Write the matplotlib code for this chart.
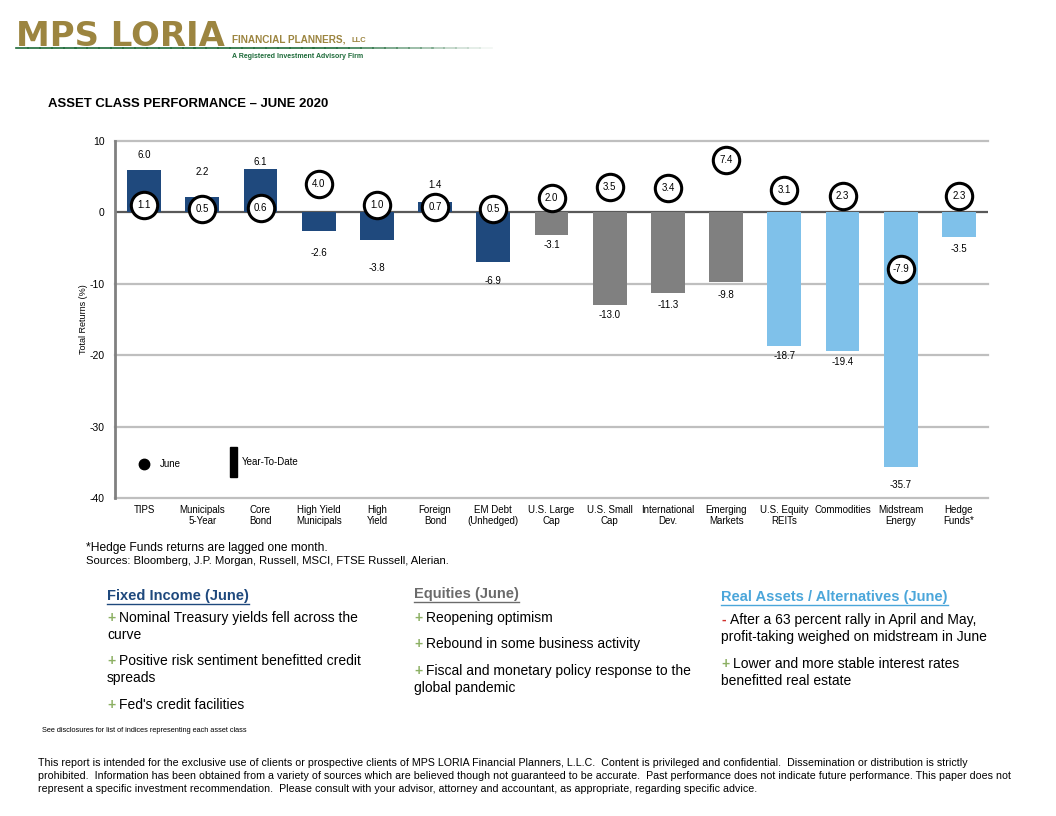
import matplotlib
matplotlib.use("Agg")
import matplotlib.pyplot as plt
from matplotlib.lines import Line2D
from matplotlib.patches import Rectangle
import numpy as np

# ---------------- data ----------------
categories = ["TIPS", "Municipals\n5-Year", "Core\nBond", "High Yield\nMunicipals", "High\nYield",
              "Foreign\nBond", "EM Debt\n(Unhedged)", "U.S. Large\nCap", "U.S. Small\nCap",
              "International\nDev.", "Emerging\nMarkets", "U.S. Equity\nREITs", "Commodities",
              "Midstream\nEnergy", "Hedge\nFunds*"]
ytd = [6.0, 2.2, 6.1, -2.6, -3.8, 1.4, -6.9, -3.1, -13.0, -11.3, -9.8, -18.7, -19.4, -35.7, -3.5]
june = [1.1, 0.5, 0.6, 4.0, 1.0, 0.7, 0.5, 2.0, 3.5, 3.4, 7.4, 3.1, 2.3, -7.9, 2.3]
groups = ["fi"] * 7 + ["eq"] * 4 + ["ra"] * 4
yticks = [10, 0, -10, -20, -30, -40]

# ---------------- style ----------------
W, H = 1056, 816
colors = {"fi": "#1F497D", "eq": "#808080", "ra": "#7FC1EA"}
# label offsets (points) away from bar end, chosen to avoid circles
label_off = [7, 14, 1.5, 12, 17, 9, 10, 4, 3.5, 5, 5.5, 3.5, 4.5, 9, 4.5]

plt.rcParams['font.family'] = ['Liberation Sans', 'DejaVu Sans']
fig = plt.figure(figsize=(W / 100, H / 100), dpi=100)
fig.canvas.draw()
R = fig.canvas.get_renderer()

def fx(x):
    return x / W

def fy(y):
    return 1 - y / H

def fit(t, width_px):
    """scale the font size of text t so that it spans width_px pixels"""
    for _ in range(3):
        w = t.get_window_extent(R).width
        t.set_fontsize(t.get_fontsize() * width_px / w)
    return t

# ---------------- logo ----------------
gold = "#9C8540"
dgreen = "#1E6B3A"
# fading green rule
for x0 in np.linspace(16, 480, 40):
    a = 1.0 if x0 < 330 else max(0.0, 1 - (x0 - 330) / 160)
    fig.add_artist(Line2D([fx(x0), fx(x0 + 12)], [fy(48), fy(48)], color=dgreen, lw=1.2, alpha=a))
t = fig.text(fx(16), fy(36), "MPS LORIA", fontsize=23, fontweight='bold', color=gold,
             va='center', ha='left', family=['DejaVu Sans'])
fit(t, 209)
t = fig.text(fx(232), fy(39), "FINANCIAL PLANNERS,", fontsize=9, fontweight='bold', color=gold,
             va='center', ha='left')
fit(t, 114)
fig.text(fx(351), fy(40), "LLC", fontsize=5.5, fontweight='bold', color=gold, va='center', ha='left')
t = fig.text(fx(232), fy(56), "A Registered Investment Advisory Firm", fontsize=5.5, fontweight='bold',
             color=dgreen, va='center', ha='left')
fit(t, 130)

# ---------------- title ----------------
t = fig.text(fx(48), fy(104), "ASSET CLASS PERFORMANCE \u2013 JUNE 2020", fontsize=9.4, fontweight='bold',
             va='center', ha='left')
fit(t, 279)

# ---------------- chart ----------------
left, right, top, bottom = 115, 988, 141, 498
ax = fig.add_axes([fx(left), fy(bottom), fx(right - left), (bottom - top) / H])
x = np.arange(len(categories))
bar_cols = [colors[g] for g in groups]
ax.bar(x, ytd, width=0.58, color=bar_cols, zorder=2)
ax.set_xlim(-0.5, len(categories) - 0.5)
ax.set_ylim(-40, 10)
for yv in yticks:
    if yv == 0:
        ax.axhline(0, color="#595959", lw=1.6, zorder=1.5)
    else:
        ax.axhline(yv, color="#BFBFBF", lw=1.6, zorder=1, clip_on=False)
ax.set_yticks(yticks)
ax.set_yticklabels([str(v) for v in yticks], fontsize=7.5)
ax.tick_params(axis='y', length=0, pad=7.5)
ax.set_xticks(x)
ax.set_xticklabels(categories, fontsize=7, linespacing=1.1)
ax.tick_params(axis='x', length=0, pad=5)
for s in ["top", "right", "bottom"]:
    ax.spines[s].set_visible(False)
ax.spines["left"].set_color("#808080")
ax.spines["left"].set_linewidth(2.0)
ax.set_ylabel("Total Returns (%)", fontsize=6.5, labelpad=1)

# june circles
ax.plot(x, june, linestyle='none', marker='o', markersize=19, markerfacecolor='white',
        markeredgecolor='black', markeredgewidth=2.2, zorder=4)
for xi, v in zip(x, june):
    ax.text(xi, v, f"{v:.1f}", ha='center', va='center', fontsize=7, zorder=5)

# ytd labels
for xi, v, off in zip(x, ytd, label_off):
    sign = 1 if v >= 0 else -1
    ax.annotate(f"{v:.1f}", (xi, v), xytext=(0, sign * off), textcoords='offset points',
                ha='center', va='bottom' if v >= 0 else 'top', fontsize=7, zorder=5)

# legend
ax.plot([0], [-35.2], marker='o', markersize=7.5, color='black', linestyle='none', zorder=4)
ax.text(0.27, -35.2, "June", fontsize=7, va='center', ha='left')
fig.add_artist(Rectangle((fx(230), fy(477)), fx(7), (477 - 447) / H, color='black'))
fig.text(fx(242), fy(462), "Year-To-Date", fontsize=7, va='center', ha='left')

# ---------------- notes ----------------
t = fig.text(fx(86), fy(548), "*Hedge Funds returns are lagged one month.", fontsize=8.2, va='center')
fit(t, 239)
t = fig.text(fx(86), fy(561), "Sources: Bloomberg, J.P. Morgan, Russell, MSCI, FTSE Russell, Alerian.",
             fontsize=8.2, va='center')
fit(t, 364)

# ---------------- commentary ----------------
headers = []
def header(xp, yp, txt, col, wpx):
    t = fig.text(fx(xp), fy(yp), txt, fontsize=10.5, fontweight='bold', color=col, va='center',
                 ha='left')
    fit(t, wpx)
    headers.append(t)

header(107, 596, "Fixed Income (June)", "#1F497D", 142)
header(414, 594, "Equities (June)", "#6B6B6B", 105)
header(721, 597, "Real Assets / Alternatives (June)", "#4BA6DA", 227)

green = "#8CB063"
def bullet(xp, yp, lines, sym="+", symcol=green, gap=17, indent=12):
    fig.text(fx(xp), fy(yp), sym, fontsize=10, color=symcol, fontweight='bold', va='center')
    for i, ln in enumerate(lines):
        xo = xp + indent if i == 0 else xp
        fig.text(fx(xo), fy(yp + i * gap), ln, fontsize=10, va='center')

bullet(107, 618, ["Nominal Treasury yields fell across the", "curve"])
bullet(107, 661, ["Positive risk sentiment benefitted credit", "spreads"])
bullet(107, 705, ["Fed's credit facilities"])
bullet(414, 618, ["Reopening optimism"])
bullet(414, 644, ["Rebound in some business activity"])
bullet(414, 671, ["Fiscal and monetary policy response to the", "global pandemic"])
bullet(721, 620, ["After a 63 percent rally in April and May,", "profit-taking weighed on midstream in June"],
       sym="-", symcol="#D0312D", indent=9)
bullet(721, 664, ["Lower and more stable interest rates", "benefitted real estate"])

t = fig.text(fx(42), fy(730), "See disclosures for list of indices representing each asset class",
             fontsize=5, va='center')
fit(t, 205)

# underline headers
for t in headers:
    bb = t.get_window_extent(R)
    fig.add_artist(Line2D([bb.x0 / fig.bbox.width, bb.x1 / fig.bbox.width],
                          [(bb.y0 - 0.5) / fig.bbox.height] * 2, color=t.get_color(), lw=1))

# ---------------- footer ----------------
footer = ["This report is intended for the exclusive use of clients or prospective clients of MPS LORIA Financial Planners, L.L.C.  Content is privileged and confidential.  Dissemination or distribution is strictly",
          "prohibited.  Information has been obtained from a variety of sources which are believed though not guaranteed to be accurate.  Past performance does not indicate future performance. This paper does not",
          "represent a specific investment recommendation.  Please consult with your advisor, attorney and accountant, as appropriate, regarding specific advice."]
fsz = None
for i, ln in enumerate(footer):
    t = fig.text(fx(38), fy(763 + 13 * i), ln, fontsize=7.7, va='center')
    if i == 1:
        fit(t, 971)
        fsz = t.get_fontsize()
for t in fig.texts[-3:]:
    t.set_fontsize(fsz)

fig.savefig("out.png", dpi=100)
